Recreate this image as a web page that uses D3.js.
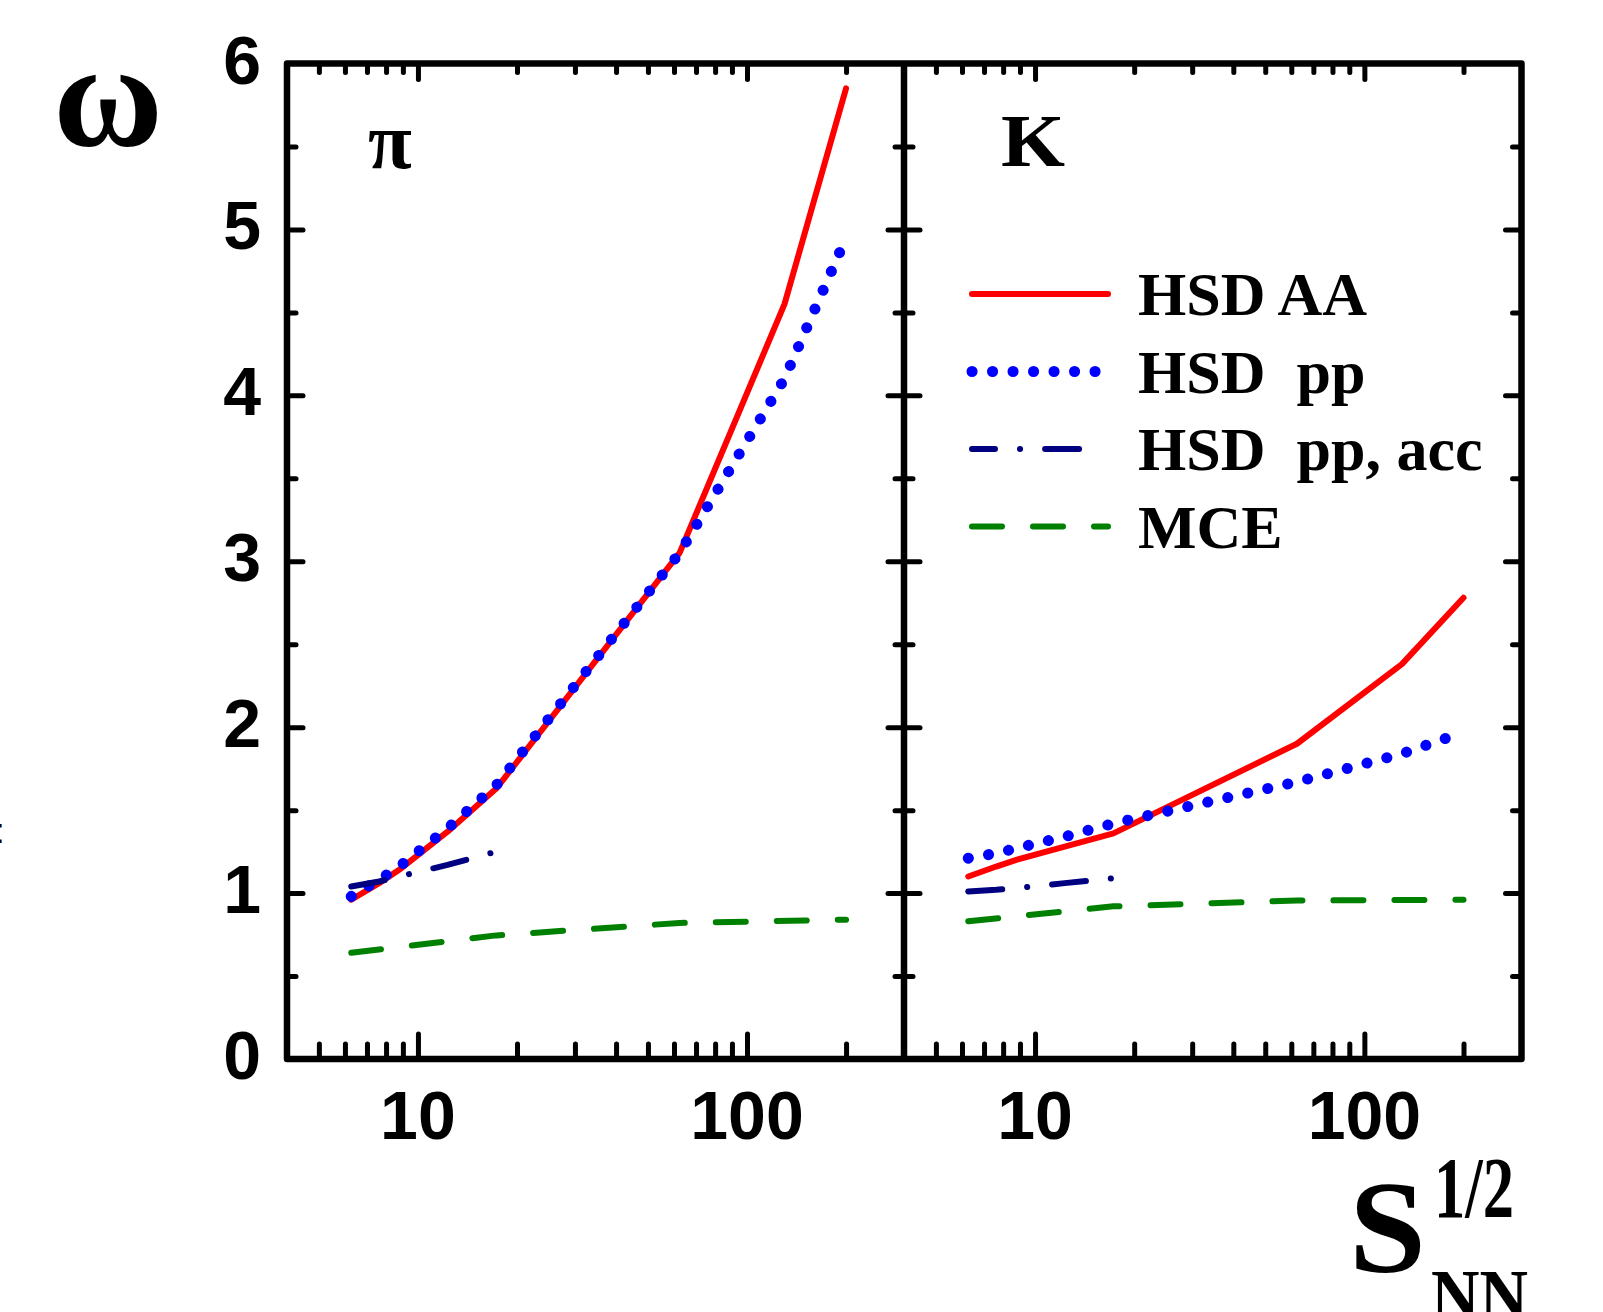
<!DOCTYPE html>
<html>
<head>
<meta charset="utf-8">
<title>omega pi K</title>
<script src="https://cdn.jsdelivr.net/npm/d3@7"></script>
<style>
  html, body { margin: 0; padding: 0; background: #fff; }
  svg { display: block; }
  .num { font-family: "Liberation Sans", Arial, sans-serif; font-weight: bold; font-size: 68px; fill: #000; }
  .serif { font-family: "Liberation Serif", "Times New Roman", serif; font-weight: bold; fill: #000; white-space: pre; }
  .tick line { stroke: #000; stroke-linecap: round; }
</style>
</head>
<body>
<div id="chart"></div>
<script>
// sqrt(s_NN) points of the calculations
var sqrtS    = [6.27, 7.62, 8.77, 12.3, 17.3, 62.4, 130, 200];
var sqrtSAcc = [6.27, 7.62, 8.77, 12.3, 17.3];
var sqrtSMce = [6.27, 17.3, 62.4, 200];

// pions
var piAA  = [0.96, 1.06, 1.14, 1.37, 1.63, 3.05, 4.55, 5.85];
var piPP  = [0.98, 1.08, 1.16, 1.39, 1.65, 3.05, 4.10, 4.95];
var piAcc = [1.04, 1.07, 1.10, 1.17, 1.25];
var piMce = [0.64, 0.745, 0.82, 0.84];

// kaons
var kAA  = [1.10, 1.16, 1.20, 1.28, 1.36, 1.90, 2.38, 2.78];
var kPP  = [1.21, 1.24, 1.27, 1.34, 1.42, 1.67, 1.84, 1.97];
var kAcc = [1.01, 1.02, 1.03, 1.06, 1.09];
var kMce = [0.83, 0.92, 0.955, 0.96];

var yMajor = [0, 1, 2, 3, 4, 5, 6];
var yMinor = [0.5, 1.5, 2.5, 3.5, 4.5, 5.5];
var xMajor = [10, 100];
var legendLabels = ["HSD AA", "HSD  pp", "HSD  pp, acc", "MCE"];
var panelLabels = ["\u03c0", "K"];

var W = 1603, H = 1312;
var yTop = 63.5, yBot = 1059;
var panelX = [[287, 904], [904, 1521.5]];

var styles = [
  {color: "#ff0000", width: 6, dash: null, end: 1108},
  {color: "#0000ff", width: 11, dash: "0.1 20.4", end: 1108},
  {color: "#000080", width: 6, dash: "34 25 0.1 25", offset: 11, end: 1083},
  {color: "#008000", width: 6, dash: "30 31", end: 1108}
];

var svg = d3.select("#chart").append("svg")
    .attr("width", W)
    .attr("height", H);

var y = d3.scaleLinear().domain([0, 6]).range([yBot, yTop]);

var panels = [
  {label: panelLabels[0], series: [[sqrtS, piAA], [sqrtS, piPP], [sqrtSAcc, piAcc], [sqrtSMce, piMce]]},
  {label: panelLabels[1], series: [[sqrtS, kAA], [sqrtS, kPP], [sqrtSAcc, kAcc], [sqrtSMce, kMce]]}
];

function tickAxis(g, axis, vals, size, sw) {
  g.call(axis.tickValues(vals).tickSize(size).tickFormat(""));
  g.select(".domain").remove();
  g.selectAll(".tick line").attr("stroke-width", sw);
}

panels.forEach(function(p, i) {
  var x = d3.scaleLog().domain([4, 300]).range(panelX[i]);
  var xMinor = x.ticks().filter(function(v) { return v > 4 && v < 300 && xMajor.indexOf(v) < 0; });
  var g = svg.append("g");

  // ticks, all pointing inward
  tickAxis(g.append("g").attr("transform", "translate(0," + yBot + ")"), d3.axisBottom(x), xMinor, -15, 5);
  tickAxis(g.append("g").attr("transform", "translate(0," + yBot + ")"), d3.axisBottom(x), xMajor, -25, 5);
  tickAxis(g.append("g").attr("transform", "translate(0," + yTop + ")"), d3.axisTop(x), xMinor, -9, 5);
  tickAxis(g.append("g").attr("transform", "translate(0," + yTop + ")"), d3.axisTop(x), xMajor, -16, 5);
  tickAxis(g.append("g").attr("transform", "translate(" + panelX[i][0] + ",0)"), d3.axisLeft(y), yMinor, -9, 5);
  tickAxis(g.append("g").attr("transform", "translate(" + panelX[i][0] + ",0)"), d3.axisLeft(y), yMajor.slice(1, 6), -16, 5);
  tickAxis(g.append("g").attr("transform", "translate(" + panelX[i][1] + ",0)"), d3.axisRight(y), yMinor, -9, 5);
  tickAxis(g.append("g").attr("transform", "translate(" + panelX[i][1] + ",0)"), d3.axisRight(y), yMajor.slice(1, 6), -16, 5);

  // x tick labels
  g.selectAll(".xl").data(xMajor).enter().append("text")
    .attr("class", "num")
    .attr("x", function(d) { return x(d); })
    .attr("y", 1139)
    .attr("text-anchor", "middle")
    .text(function(d) { return d; });

  // curves
  var line = d3.line()
    .x(function(d) { return x(d[0]); })
    .y(function(d) { return y(d[1]); });

  p.series.forEach(function(s, k) {
    var pts = s[0].map(function(v, j) { return [v, s[1][j]]; });
    g.append("path")
      .attr("d", line(pts))
      .attr("fill", "none")
      .attr("stroke", styles[k].color)
      .attr("stroke-width", styles[k].width)
      .attr("stroke-linecap", "round")
      .attr("stroke-linejoin", "round")
      .attr("stroke-dasharray", styles[k].dash);
  });
});

// y tick labels
svg.selectAll(".yl").data(yMajor).enter().append("text")
  .attr("class", "num")
  .attr("x", 261)
  .attr("y", function(d) { return y(d) + 20; })
  .attr("text-anchor", "end")
  .text(function(d) { return d; });

// frame
svg.append("rect")
  .attr("x", panelX[0][0]).attr("y", yTop)
  .attr("width", panelX[1][1] - panelX[0][0]).attr("height", yBot - yTop)
  .attr("fill", "none").attr("stroke", "#000").attr("stroke-width", 6.5)
  .attr("stroke-linejoin", "round");
svg.append("line")
  .attr("x1", panelX[0][1]).attr("x2", panelX[0][1])
  .attr("y1", yTop).attr("y2", yBot)
  .attr("stroke", "#000").attr("stroke-width", 6.5);

// panel labels
svg.append("text").attr("class", "serif").attr("x", 368).attr("y", 168)
  .attr("font-size", 80).text(panelLabels[0]);
svg.append("text").attr("class", "serif").attr("x", 1001).attr("y", 166)
  .attr("font-size", 74).attr("textLength", 64).attr("lengthAdjust", "spacingAndGlyphs")
  .text(panelLabels[1]);

// legend
var legend = svg.append("g");
legendLabels.forEach(function(lbl, k) {
  var ly = 294 + k * 77.5;
  legend.append("line")
    .attr("x1", 972).attr("x2", styles[k].end)
    .attr("y1", ly).attr("y2", ly)
    .attr("stroke", styles[k].color)
    .attr("stroke-width", styles[k].width)
    .attr("stroke-linecap", "round")
    .attr("stroke-dasharray", styles[k].dash)
    .attr("stroke-dashoffset", styles[k].offset || 0);
  legend.append("text").attr("class", "serif")
    .attr("x", 1138).attr("y", ly + 21)
    .attr("font-size", 62)
    .text(lbl);
});

// axis titles
svg.append("text").attr("class", "serif").attr("x", 108).attr("y", 146)
  .attr("text-anchor", "middle").attr("font-size", 150).text("\u03c9");

svg.append("text").attr("class", "serif").attr("x", 1349).attr("y", 1272)
  .attr("font-size", 132).attr("textLength", 77).attr("lengthAdjust", "spacingAndGlyphs").text("S");
svg.append("text").attr("class", "serif").attr("x", 1434).attr("y", 1217)
  .attr("font-size", 86).attr("textLength", 80).attr("lengthAdjust", "spacingAndGlyphs").text("1/2");
svg.append("text").attr("class", "serif").attr("x", 1431).attr("y", 1321)
  .attr("font-size", 74).attr("textLength", 97).attr("lengthAdjust", "spacingAndGlyphs").text("NN");

// stray mark at the left edge
svg.append("text").attr("x", -5).attr("y", 843)
  .style("font-family", "Liberation Sans, Arial, sans-serif")
  .style("font-size", "35px")
  .style("fill", "#000")
  .text(":");
</script>
</body>
</html>
